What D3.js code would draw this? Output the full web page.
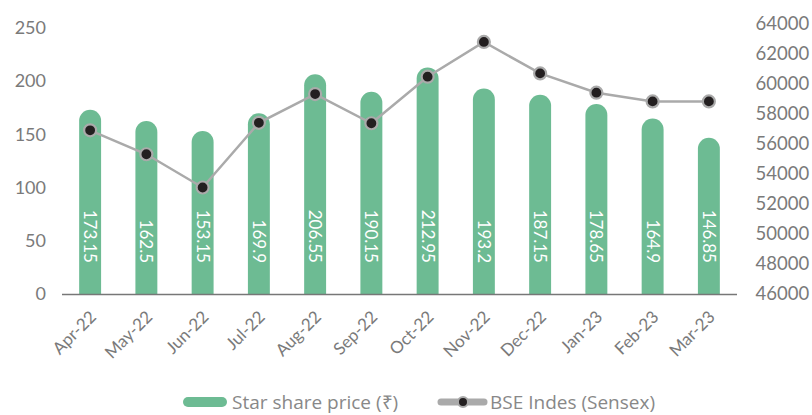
<!DOCTYPE html>
<html>
<head>
<meta charset="utf-8">
<script src="https://cdn.jsdelivr.net/npm/d3@7"></script>
<style>
  body { margin: 0; background: #fff; }
  svg { display: block; }
  .tick text { fill: #7a7a7a; }
</style>
</head>
<body>
<svg id="target" width="812" height="415"></svg>
<script>
// Chart data
const months = ["Apr-22", "May-22", "Jun-22", "Jul-22", "Aug-22", "Sep-22",
                "Oct-22", "Nov-22", "Dec-22", "Jan-23", "Feb-23", "Mar-23"];
const sharePrice = [173.15, 162.5, 153.15, 169.9, 206.55, 190.15,
                    212.95, 193.2, 187.15, 178.65, 164.9, 146.85];
const sensex = [56900, 55300, 53080, 57400, 59320, 57370,
                60480, 62800, 60700, 59410, 58830, 58830];
const leftTicks = [0, 50, 100, 150, 200, 250];
const rightTicks = [46000, 48000, 50000, 52000, 54000, 56000, 58000, 60000, 62000, 64000];
const seriesNames = ["Star share price (₹)", "BSE Indes (Sensex)"];

const green = "#6dbb93";
const grey = "#aaaaaa";

function main() {
    let svg = d3.select("#target");

    // Scales
    let x = d3.scaleBand()
        .domain(months)
        .range([62, 737])
        .paddingInner(0.61)
        .paddingOuter(0.305);

    let y = d3.scaleLinear()
        .domain([0, 250])
        .range([294, 28]);

    let y2 = d3.scaleLinear()
        .domain([46000, 64000])
        .range([293.5, 24]);

    // Left axis
    svg.append("g")
        .attr("transform", "translate(46,0)")
        .call(d3.axisLeft(y).tickValues(leftTicks).tickSize(0).tickPadding(0))
        .call(g => g.select(".domain").remove())
        .selectAll("text")
        .style("font-family", "Lato")
        .style("font-size", "18px");

    // Right axis
    svg.append("g")
        .attr("transform", "translate(755.5,0)")
        .call(d3.axisRight(y2).tickValues(rightTicks).tickSize(0).tickPadding(0).tickFormat(d3.format("d")))
        .call(g => g.select(".domain").remove())
        .selectAll("text")
        .style("font-family", "Lato")
        .style("font-size", "18.5px");

    // Bars with rounded top
    let bw = x.bandwidth();
    let r = bw / 2;
    svg.append("g")
        .selectAll("path")
        .data(sharePrice)
        .enter()
        .append("path")
        .attr("fill", green)
        .attr("d", (d, i) => {
            let x0 = x(months[i]), x1 = x0 + bw;
            let top = y(d), base = y(0);
            return "M" + x0 + "," + base +
                "V" + (top + r) +
                "A" + r + "," + r + " 0 0 1 " + x1 + "," + (top + r) +
                "V" + base + "Z";
        });

    // Bar value labels (rotated)
    svg.append("g")
        .selectAll("text")
        .data(sharePrice)
        .enter()
        .append("text")
        .attr("transform", (d, i) =>
            "translate(" + (x(months[i]) + bw / 2 - 6) + ",263) rotate(90)")
        .attr("text-anchor", "end")
        .style("font-family", "Lato")
        .style("font-size", "17px")
        .style("fill", "#fff")
        .text(d => d);

    // X axis line
    svg.append("line")
        .attr("x1", 62).attr("x2", 737)
        .attr("y1", 294.5).attr("y2", 294.5)
        .attr("stroke", "#777")
        .attr("stroke-width", 1.5);

    // X labels
    svg.append("g")
        .selectAll("text")
        .data(months)
        .enter()
        .append("text")
        .attr("transform", d => "translate(" + (x(d) + bw / 2 + 7) + ",318) rotate(-45)")
        .attr("text-anchor", "end")
        .style("font-family", "Lato")
        .style("font-size", "17px")
        .style("fill", "#7a7a7a")
        .text(d => d);

    // Sensex line
    let line = d3.line()
        .x((d, i) => x(months[i]) + bw / 2)
        .y(d => y2(d));

    svg.append("path")
        .datum(sensex)
        .attr("fill", "none")
        .attr("stroke", grey)
        .attr("stroke-width", 2.5)
        .attr("d", line);

    svg.append("g")
        .selectAll("circle")
        .data(sensex)
        .enter()
        .append("circle")
        .attr("cx", (d, i) => x(months[i]) + bw / 2)
        .attr("cy", d => y2(d))
        .attr("r", 6)
        .attr("fill", "#231f20")
        .attr("stroke", grey)
        .attr("stroke-width", 2.2);

    // Legend
    let legend = svg.append("g");
    legend.append("rect")
        .attr("x", 183).attr("y", 397)
        .attr("width", 44).attr("height", 10)
        .attr("rx", 5)
        .attr("fill", green);
    legend.append("text")
        .attr("x", 232).attr("y", 409)
        .style("font-family", "Open Sans")
        .style("font-size", "19px")
        .style("fill", "#888")
        .text(seriesNames[0]);

    legend.append("line")
        .attr("x1", 441).attr("x2", 484)
        .attr("y1", 402).attr("y2", 402)
        .attr("stroke", grey)
        .attr("stroke-width", 7)
        .attr("stroke-linecap", "round");
    legend.append("circle")
        .attr("cx", 463).attr("cy", 402)
        .attr("r", 5)
        .attr("fill", "#231f20")
        .attr("stroke", grey)
        .attr("stroke-width", 2);
    legend.append("text")
        .attr("x", 490).attr("y", 409)
        .style("font-family", "Open Sans")
        .style("font-size", "19px")
        .style("fill", "#888")
        .text(seriesNames[1]);
}

main();
</script>
</body>
</html>
